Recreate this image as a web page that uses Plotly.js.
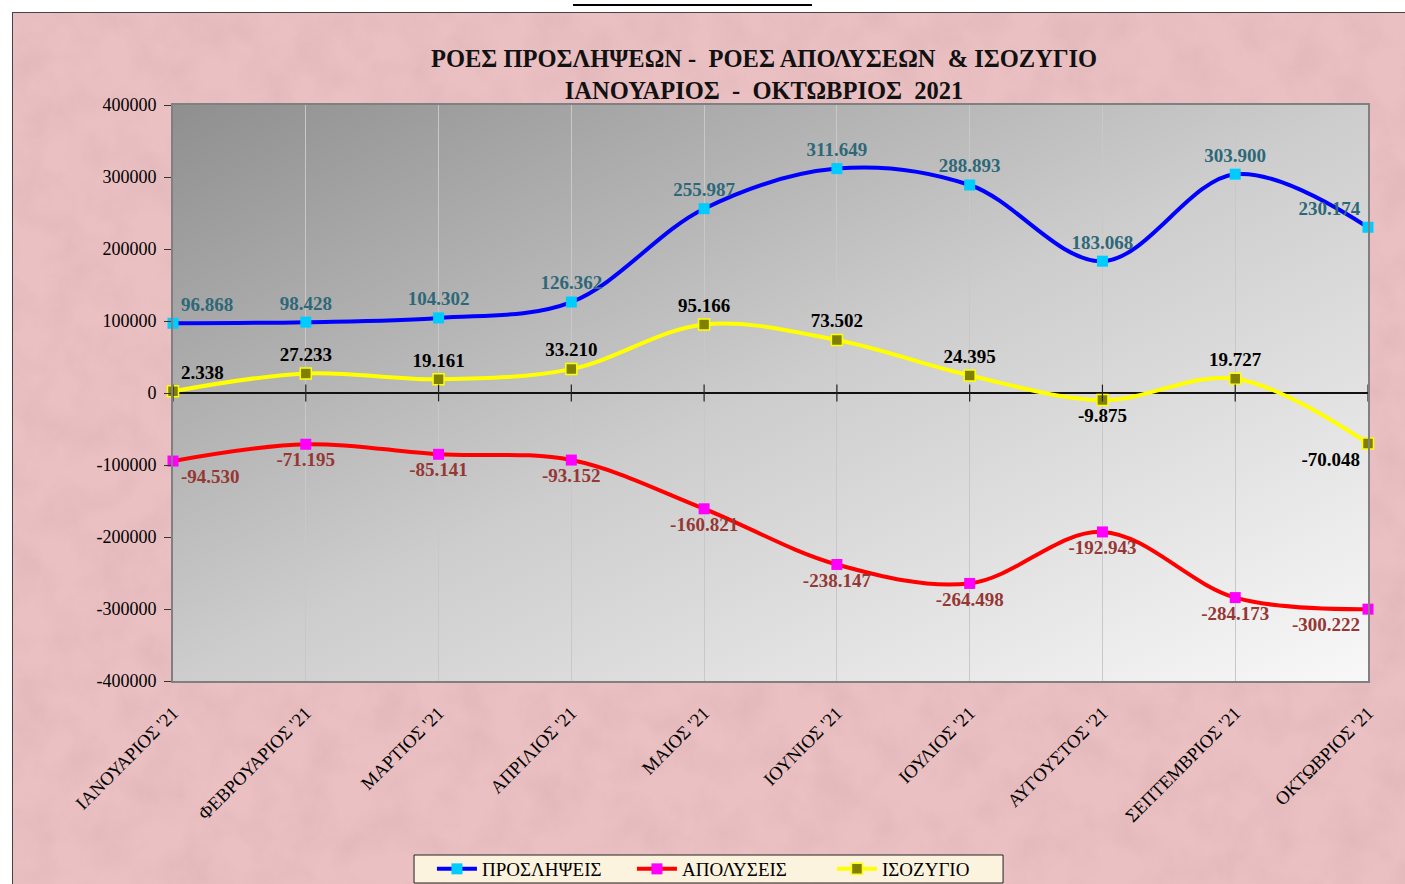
<!DOCTYPE html>
<html>
<head>
<meta charset="utf-8">
<script src="https://cdn.plot.ly/plotly-3.0.1.min.js"></script>
<style>
html,body{margin:0;padding:0;background:#fff;}
#wrap{position:relative;width:1405px;height:884px;overflow:hidden;}
#bg{position:absolute;left:12px;top:12px;width:1400px;height:880px;border:1px solid #444;box-sizing:border-box;
 background-color:#eac0c3;
 background-image:url("data:image/svg+xml;utf8,<svg xmlns='http://www.w3.org/2000/svg' width='1400' height='880'><filter id='n'><feTurbulence type='fractalNoise' baseFrequency='0.025' numOctaves='4' seed='3'/><feColorMatrix type='matrix' values='0 0 0 0 0.62  0 0 0 0 0.38  0 0 0 0 0.40  0 0 0 1.2 -0.45'/></filter><rect width='100%' height='100%' filter='url(%23n)' opacity='0.45'/></svg>");}
#topline{position:absolute;left:573px;top:4px;width:239px;height:0;border-bottom:2px solid #000;}
#chart{position:absolute;left:0;top:0;width:1405px;height:884px;}
</style>
</head>
<body>
<div id="wrap">
<div id="bg"></div>
<div id="topline"></div>
<div id="chart"></div>
</div>
<script>
const months = ["ΙΑΝΟΥΑΡΙΟΣ '21","ΦΕΒΡΟΥΑΡΙΟΣ '21","ΜΑΡΤΙΟΣ '21","ΑΠΡΙΛΙΟΣ '21","ΜΑΙΟΣ '21","ΙΟΥΝΙΟΣ '21","ΙΟΥΛΙΟΣ '21","ΑΥΓΟΥΣΤΟΣ '21","ΣΕΠΤΕΜΒΡΙΟΣ '21","ΟΚΤΩΒΡΙΟΣ '21"];
const proslipseis = [96868, 98428, 104302, 126362, 255987, 311649, 288893, 183068, 303900, 230174];
const apolyseis = [-94530, -71195, -85141, -93152, -160821, -238147, -264498, -192943, -284173, -300222];
const isozygio = [2338, 27233, 19161, 33210, 95166, 73502, 24395, -9875, 19727, -70048];
const yTickVals = [400000, 300000, 200000, 100000, 0, -100000, -200000, -300000, -400000];
const yTickText = ["400000","300000","200000","100000","0","-100000","-200000","-300000","-400000"];
const seriesNames = ["ΠΡΟΣΛΗΨΕΙΣ","ΑΠΟΛΥΣΕΙΣ","ΙΣΟΖΥΓΙΟ"];

function fmt(v){
  const s = Math.abs(v).toString().replace(/\B(?=(\d{3})+(?!\d))/g, ".");
  return (v < 0 ? "-" : "") + s;
}
const serif = "'Liberation Serif', 'DejaVu Serif', serif";

const gradSvg = "<svg xmlns='http://www.w3.org/2000/svg' width='100' height='100' preserveAspectRatio='none'><defs><linearGradient id='g' x1='0' y1='0' x2='1' y2='1'><stop offset='0' stop-color='#8f8f8f'/><stop offset='0.5' stop-color='#cdcdcd'/><stop offset='1' stop-color='#f8f8f8'/></linearGradient></defs><rect width='100' height='100' fill='url(#g)'/></svg>";
const gradSrc = "data:image/svg+xml;base64," + btoa(gradSvg);

const traces = [
  {
    x: months, y: proslipseis, name: seriesNames[0], type: "scatter", mode: "lines+markers+text",
    line: {color: "#0000ff", width: 4, shape: "spline", smoothing: 1},
    marker: {symbol: "square", size: 11, color: "#00ccff", line: {width: 0}},
    text: proslipseis.map(fmt),
    textposition: ["top right","top center","top center","top center","top center","top center","top center","top center","top center","top left"],
    textfont: {family: serif, size: 19, color: "#2e6878", weight: "bold"},
    cliponaxis: false
  },
  {
    x: months, y: apolyseis, name: seriesNames[1], type: "scatter", mode: "lines+markers+text",
    line: {color: "#ff0000", width: 4, shape: "spline", smoothing: 1},
    marker: {symbol: "square", size: 11, color: "#ff00ff", line: {width: 0}},
    text: apolyseis.map(fmt),
    textposition: ["bottom right","bottom center","bottom center","bottom center","bottom center","bottom center","bottom center","bottom center","bottom center","bottom left"],
    textfont: {family: serif, size: 19, color: "#953735", weight: "bold"},
    cliponaxis: false
  },
  {
    x: months, y: isozygio, name: seriesNames[2], type: "scatter", mode: "lines+markers+text",
    line: {color: "#ffff00", width: 4, shape: "spline", smoothing: 1},
    marker: {symbol: "square", size: 11, color: "#808000", line: {width: 1.5, color: "#ffff00"}},
    text: isozygio.map(fmt),
    textposition: ["top right","top center","top center","top center","top center","top center","top center","bottom center","top center","bottom left"],
    textfont: {family: serif, size: 19, color: "#000000", weight: "bold"},
    cliponaxis: false
  },
  {
    x: months, y: months.map(() => 0), type: "scatter", mode: "markers", showlegend: false, hoverinfo: "skip",
    marker: {symbol: "line-ns", size: 12, line: {width: 1.2, color: "#222"}}
  }
];

const layout = {
  width: 1405, height: 884,
  paper_bgcolor: "rgba(0,0,0,0)",
  plot_bgcolor: "rgba(0,0,0,0)",
  margin: {l: 173, r: 37, t: 105, b: 203, autoexpand: false},
  font: {family: serif, color: "#000"},
  title: {
    text: "<b>ΡΟΕΣ ΠΡΟΣΛΗΨΕΩΝ -  ΡΟΕΣ ΑΠΟΛΥΣΕΩΝ  & ΙΣΟΖΥΓΙΟ</b><br><b>ΙΑΝΟΥΑΡΙΟΣ  -  ΟΚΤΩΒΡΙΟΣ  2021</b>",
    font: {family: serif, size: 24.5, color: "#111"},
    x: 0.4946, xanchor: "center", xref: "paper",
    y: 0.924, yanchor: "top", yref: "container"
  },
  xaxis: {
    type: "category", range: [0, 9],
    showgrid: true, gridcolor: "#c8c8c8", gridwidth: 1,
    showline: true, linecolor: "#808080", linewidth: 2, mirror: true,
    ticks: "outside", ticklen: 12, tickcolor: "rgba(0,0,0,0)", tickangle: -45,
    tickfont: {family: serif, size: 18.5, color: "#000"},
    zeroline: false, fixedrange: true
  },
  yaxis: {
    range: [-400000, 400000],
    tickvals: yTickVals, ticktext: yTickText,
    showgrid: false,
    showline: true, linecolor: "#808080", linewidth: 2, mirror: true,
    ticks: "outside", ticklen: 7, tickcolor: "#333", tickwidth: 1,
    ticklabelstandoff: 4,
    tickfont: {family: serif, size: 18, color: "#000"},
    zeroline: true, zerolinecolor: "#111", zerolinewidth: 1.3,
    fixedrange: true
  },
  images: [{
    source: gradSrc, xref: "paper", yref: "paper", x: 0, y: 1, sizex: 1, sizey: 1,
    sizing: "stretch", layer: "below", xanchor: "left", yanchor: "top"
  }],
  shapes: [{
    type: "rect", xref: "paper", yref: "paper",
    x0: 0.2017, x1: 0.6946, y0: -0.3507, y1: -0.3021,
    fillcolor: "#fcf3df", line: {color: "#222", width: 1}, layer: "above"
  }],
  legend: {
    orientation: "h", x: 0.2167, xanchor: "left", y: -0.3264, yanchor: "middle",
    bgcolor: "rgba(0,0,0,0)", borderwidth: 0,
    font: {family: serif, size: 19, color: "#000"},
    itemwidth: 40, entrywidth: 145, entrywidthmode: "pixels", tracegroupgap: 0
  },
  showlegend: true,
  hovermode: false
};

Plotly.newPlot("chart", traces, layout, {displayModeBar: false, staticPlot: true});
</script>
</body>
</html>
